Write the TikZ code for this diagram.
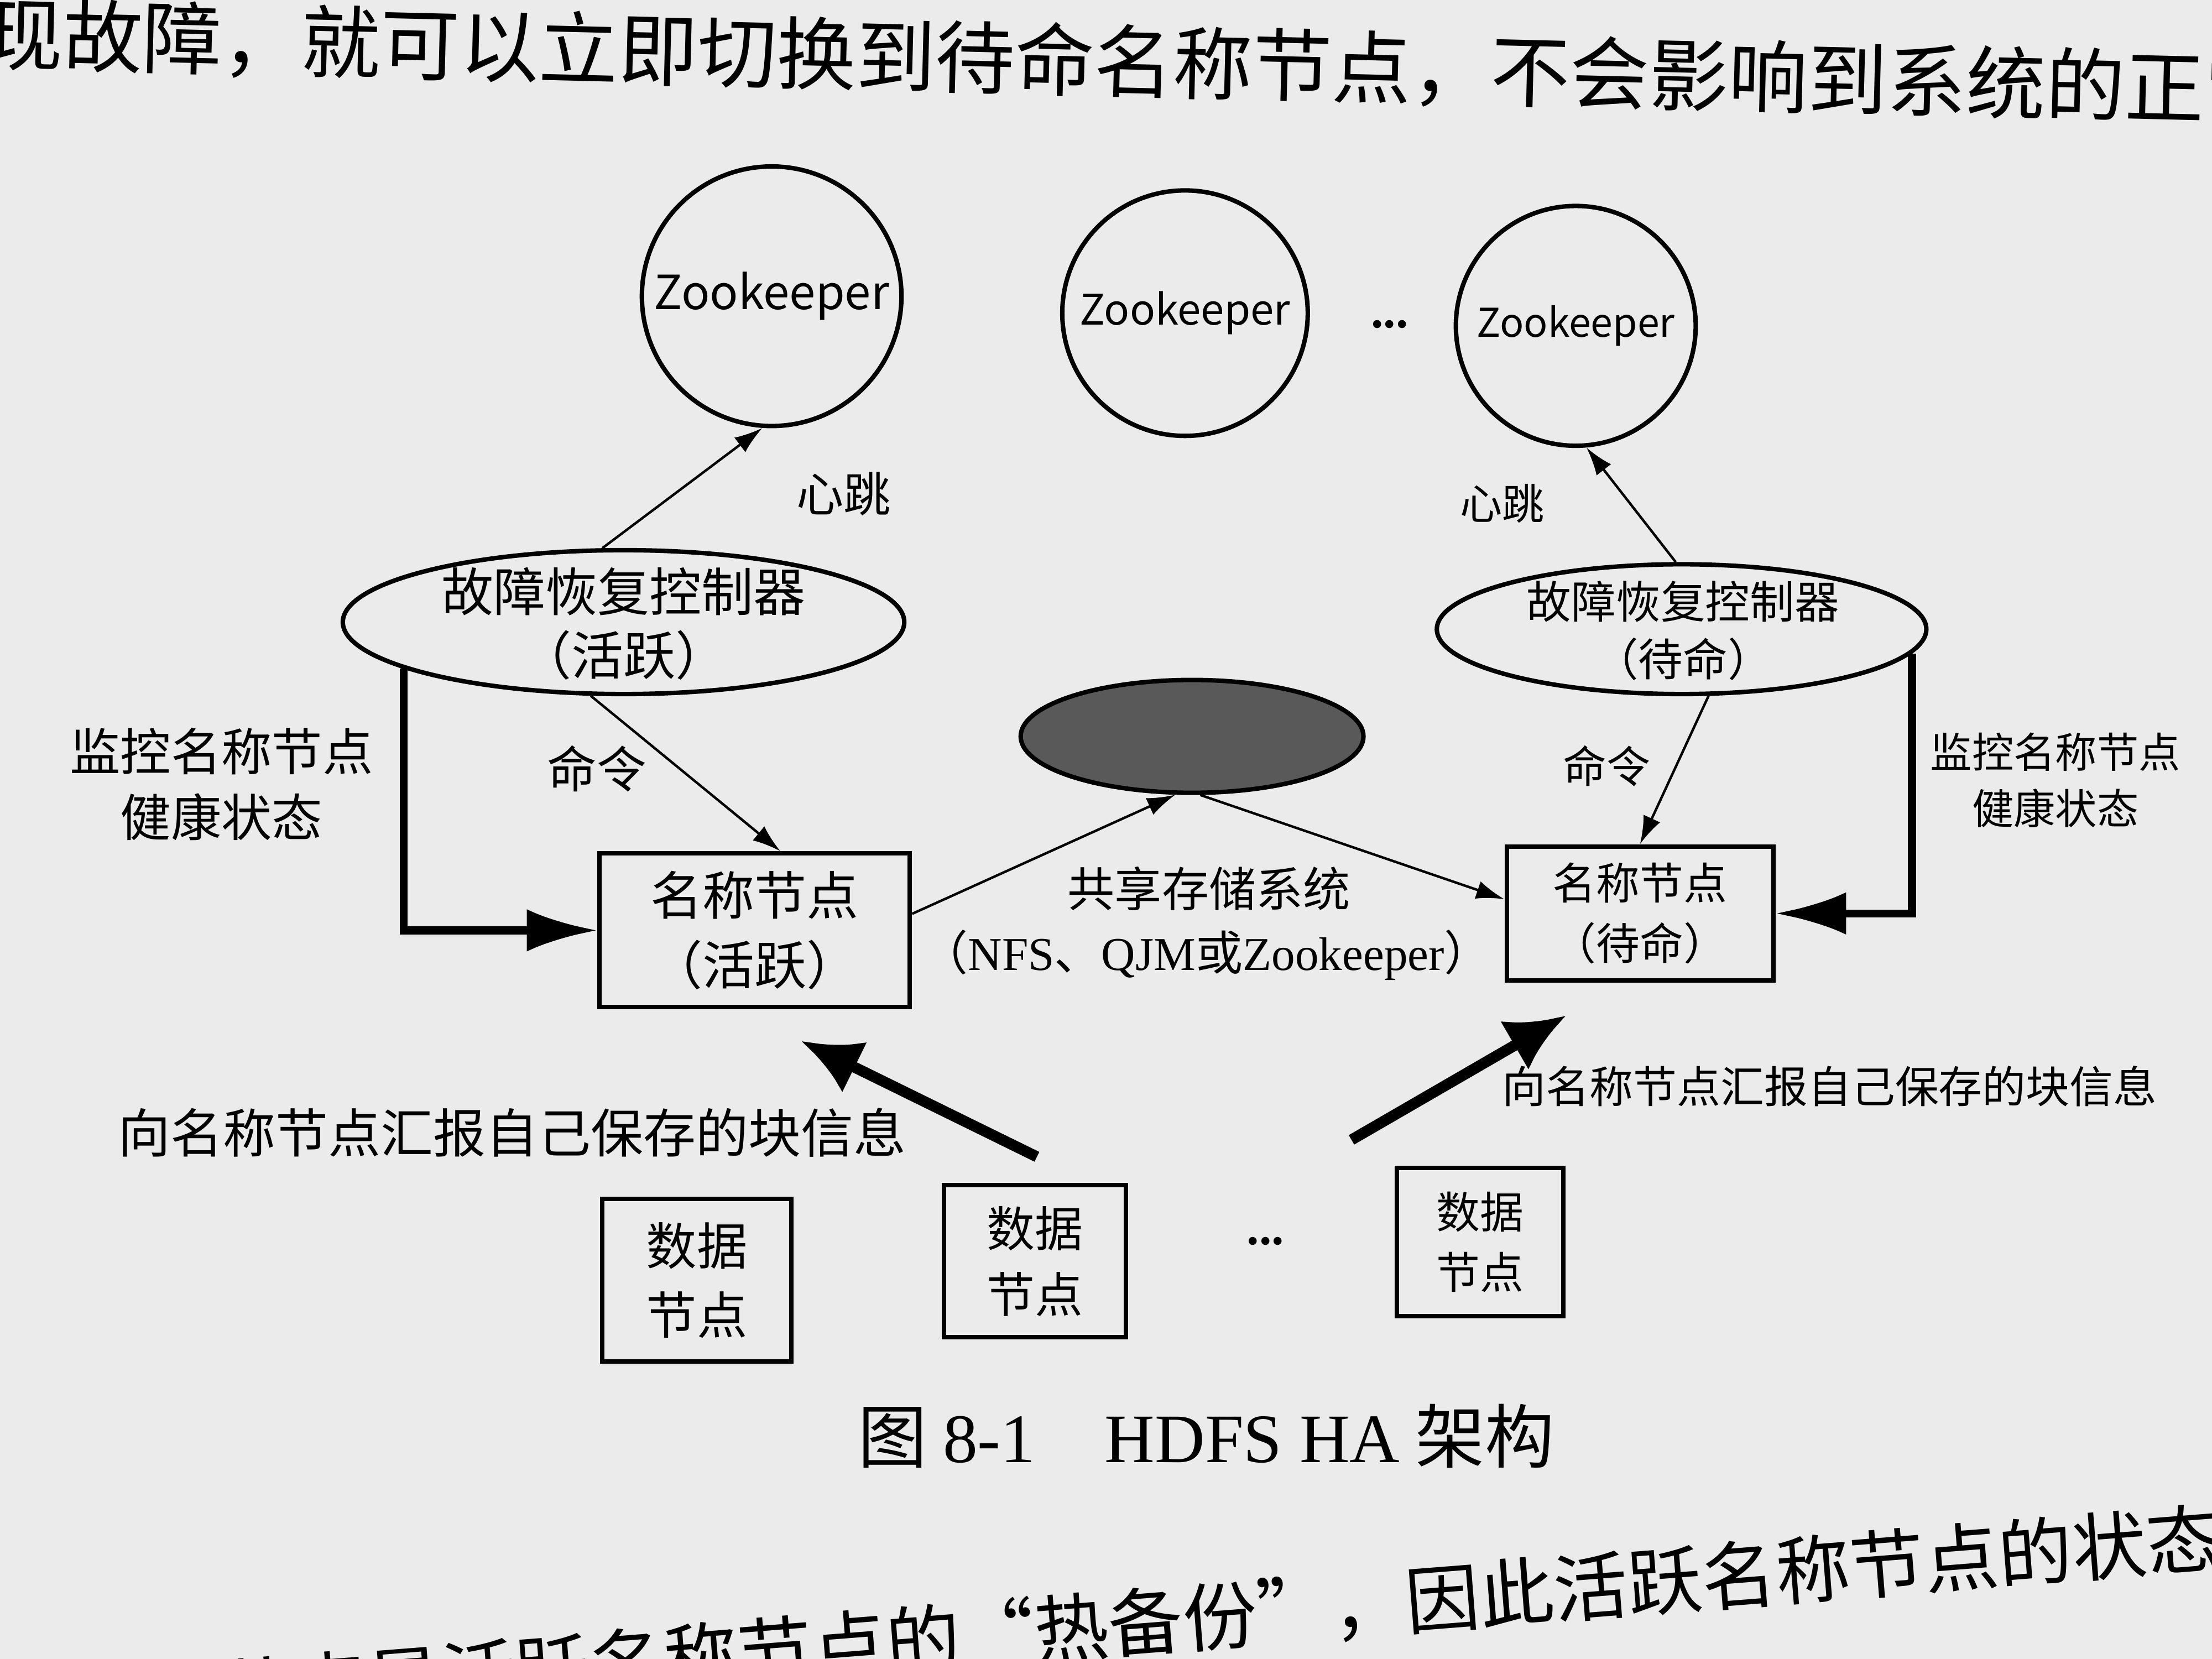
\documentclass[tikz,border=0pt]{standalone}
\usepackage{fontspec}
\setmainfont{Noto Sans CJK SC}
\newfontfamily\rom{Liberation Serif}
\usetikzlibrary{arrows.meta,shapes.geometric}

\begin{document}
\begin{tikzpicture}[every node/.style={inner sep=0pt, align=center},
    zk/.style={circle, draw, line width=0.9pt},
    fcbox/.style={ellipse, draw, line width=0.9pt},
    nodebox/.style={rectangle, draw, line width=0.9pt},
    thinarr/.style={-{Latex[length=2mm,width=1.3mm]}, line width=0.5pt},
    monitor/.style={-{Latex[length=5mm,width=3mm]}, line width=1.6pt},
    report/.style={-{Latex[length=4.2mm,width=4mm]}, line width=2.2pt}]
    \useasboundingbox (0,0) rectangle (15.68,-11.76);
    \fill[black!8] (0,0) rectangle (15.68,-11.76);

    % 正文
    \node[anchor=west, rotate=-1.4, font=\fontsize{16}{16}\selectfont] (line1) at (-0.12,-0.24)
        {现故障，就可以立即切换到待命名称节点，不会影响到系统的正常};
    \node[anchor=east, rotate=4.5, font=\fontsize{15}{15}\selectfont] (line2) at (15.75,-10.90)
        {名称节点是活跃名称节点的“热备份”，因此活跃名称节点的状态};

    % Zookeeper
    \node[zk, minimum size=18.4mm, font=\fontsize{9.5}{11}\selectfont] (zk1) at (5.47,-2.10) {Zookeeper};
    \node[zk, minimum size=17.4mm, font=\fontsize{8.5}{10}\selectfont] (zk2) at (8.40,-2.22) {Zookeeper};
    \node[font=\rom\bfseries] (zkdots) at (9.85,-2.30) {...};
    \node[zk, minimum size=17mm, font=\fontsize{8}{10}\selectfont] (zk3) at (11.17,-2.31) {Zookeeper};

    % 故障恢复控制器
    \node[fcbox, minimum width=39.8mm, minimum height=10.2mm] (fc1) at (4.42,-4.41) {};
    \node[font=\fontsize{10.5}{12.8}\selectfont] (fc1txt) at (4.42,-4.42) {故障恢复控制器\\（活跃）};
    \node[fcbox, minimum width=34.7mm, minimum height=9.2mm] (fc2) at (11.92,-4.46) {};
    \node[font=\fontsize{9}{11.6}\selectfont] (fc2txt) at (11.93,-4.47) {故障恢复控制器\\（待命）};

    % 共享存储系统
    \node[fcbox, fill=black!65, minimum width=24.3mm, minimum height=8mm] (store) at (8.45,-5.22) {};
    \node[font=\fontsize{9.5}{11}\selectfont] (storetxt) at (8.57,-6.30) {共享存储系统};
    \node[font=\fontsize{9.5}{11}\selectfont] (storesub) at (8.55,-6.77) {（{\rom NFS}、{\rom QJM}或{\rom Zookeeper}）};

    % 名称节点
    \node[nodebox, minimum width=22mm, minimum height=10.9mm, font=\fontsize{10.5}{14}\selectfont] (nn1) at (5.35,-6.595) {名称节点\\（活跃）};
    \node[nodebox, minimum width=18.9mm, minimum height=9.5mm, font=\fontsize{8.8}{12.2}\selectfont] (nn2) at (11.625,-6.475) {名称节点\\（待命）};

    % 数据节点
    \node[nodebox, minimum width=13.4mm, minimum height=11.5mm, font=\fontsize{10.2}{14}\selectfont] (dn1) at (4.94,-9.075) {数据\\节点};
    \node[nodebox, minimum width=12.9mm, minimum height=10.8mm, font=\fontsize{9.7}{13.3}\selectfont] (dn2) at (7.335,-8.94) {数据\\节点};
    \node[font=\rom\bfseries] (dndots) at (8.97,-8.80) {...};
    \node[nodebox, minimum width=11.8mm, minimum height=10.5mm, font=\fontsize{8.8}{12.2}\selectfont] (dn3) at (10.49,-8.805) {数据\\节点};

    % 标注
    \node[font=\fontsize{9.5}{11}\selectfont] (hb1) at (5.98,-3.50) {心跳};
    \node[font=\fontsize{8.5}{10}\selectfont] (hb2) at (10.65,-3.57) {心跳};
    \node[font=\fontsize{10}{12}\selectfont] (cmd1) at (4.23,-5.45) {命令};
    \node[font=\fontsize{8.8}{10}\selectfont] (cmd2) at (11.39,-5.43) {命令};
    \node[font=\fontsize{10.2}{13.3}\selectfont] (mon1) at (1.57,-5.56) {监控名称节点\\健康状态};
    \node[font=\fontsize{8.4}{11.3}\selectfont] (mon2) at (14.57,-5.53) {监控名称节点\\健康状态};
    \node[font=\fontsize{10.6}{12}\selectfont] (rep1) at (3.63,-8.03) {向名称节点汇报自己保存的块信息};
    \node[font=\fontsize{8.8}{10}\selectfont] (rep2) at (12.97,-7.70) {向名称节点汇报自己保存的块信息};

    % 图题
    \node[font=\fontsize{14}{16}\selectfont] (cap) at (8.55,-10.18) {图 {\rom 8-1}\quad{\rom HDFS HA} 架构};

    % 心跳
    \draw[thinarr] (fc1.106) -- (zk1.266);
    \draw[thinarr] (fc2.95) -- (zk3.275);
    % 命令
    \draw[thinarr] (fc1.246) -- (nn1.72);
    \draw[thinarr] (fc2.292) -- (nn2.north);
    % 监控健康状态
    \draw[monitor] (fc1.192) |- (nn1.west);
    \draw[monitor] (fc2.-6) |- (nn2.east);
    % 共享存储
    \draw[thinarr] (nn1.6) -- (store.254);
    \draw[thinarr] (store.278) -- (nn2.174);
    % 汇报块信息
    \coordinate (r1s) at (7.35,-8.20);
    \coordinate (r1e) at (5.68,-7.38);
    \coordinate (r2s) at (9.58,-8.08);
    \coordinate (r2e) at (11.10,-7.20);
    \draw[report] (r1s) -- (r1e);
    \draw[report] (r2s) -- (r2e);
\end{tikzpicture}
\end{document}
